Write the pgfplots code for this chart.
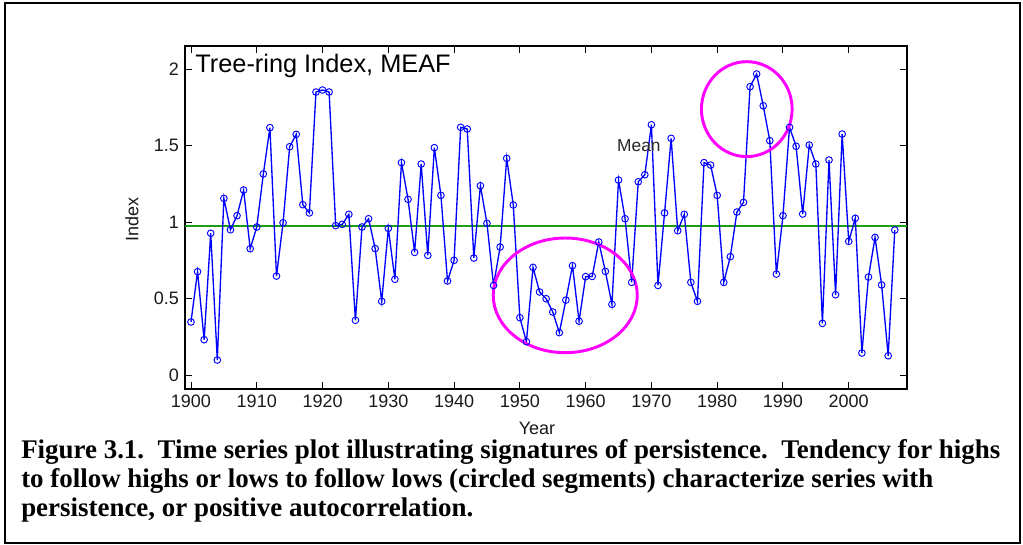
\documentclass[border=0pt]{standalone}
\usepackage{pgfplots}
\pgfplotsset{compat=1.18}
\usepackage{fontspec}
\setmainfont{Liberation Sans}
\newfontfamily\capfont{Liberation Serif}
\definecolor{meangreen}{rgb}{0.1,0.62,0.1}
\definecolor{lineblue}{rgb}{0,0,1}
\definecolor{circmag}{rgb}{1,0,1}
\begin{document}
\begin{tikzpicture}
\path[use as bounding box] (0,0) rectangle (767.25pt,408pt);
\draw[line width=1pt] (3.75pt,0.75pt) rectangle (765pt,405.75pt);
\begin{axis}[
  at={(138.75pt,116.25pt)}, anchor=south west,
  scale only axis, width=541.5pt, height=257.25pt,
  xmin=1899.09, xmax=2008.86, ymin=-0.0916, ymax=2.152,
  xtick={1900,1910,...,2000},
  ytick={0,0.5,1,1.5,2},
  yticklabels={0,0.5,1,1.5,2},
  /pgf/number format/1000 sep={},
  /pgf/number format/assume math mode=true,
  tick align=inside,
  major tick length=5pt,
  xtick pos=both, ytick pos=both,
  axis line style={line width=0.8pt},
  tick style={line width=0.7pt, black},
  ticklabel style={font=\fontsize{13.5}{15}\selectfont, text=black!90},
  xticklabel style={yshift=-1pt},
  yticklabel style={xshift=-1pt},
  xlabel={Year}, ylabel={Index},
  label style={font=\fontsize{13.5}{15}\selectfont, text=black!90},
  xlabel style={at={(axis description cs:0.4875,-0.1137)}, anchor=center},
  ylabel style={at={(axis description cs:-0.0734,0.493)}, anchor=center},
  clip=false,
]
\addplot[draw=meangreen, line width=1.1pt] coordinates {(1899.09,0.976) (2008.86,0.976)};
\addplot[lineblue, line width=1pt, mark=o, mark size=2.5pt, mark options={line width=0.7pt}] table {
x y
1900 0.347
1901 0.676
1902 0.231
1903 0.927
1904 0.098
1905 1.155
1906 0.950
1907 1.042
1908 1.210
1909 0.826
1910 0.968
1911 1.315
1912 1.618
1913 0.647
1914 0.996
1915 1.493
1916 1.574
1917 1.114
1918 1.060
1919 1.851
1920 1.864
1921 1.851
1922 0.977
1923 0.985
1924 1.051
1925 0.358
1926 0.968
1927 1.022
1928 0.827
1929 0.482
1930 0.959
1931 0.626
1932 1.389
1933 1.149
1934 0.802
1935 1.380
1936 0.783
1937 1.487
1938 1.175
1939 0.615
1940 0.750
1941 1.620
1942 1.609
1943 0.765
1944 1.238
1945 0.992
1946 0.586
1947 0.837
1948 1.417
1949 1.112
1950 0.375
1951 0.218
1952 0.704
1953 0.543
1954 0.499
1955 0.412
1956 0.277
1957 0.490
1958 0.715
1959 0.352
1960 0.643
1961 0.645
1962 0.870
1963 0.678
1964 0.462
1965 1.275
1966 1.022
1967 0.606
1968 1.264
1969 1.310
1970 1.637
1971 0.586
1972 1.060
1973 1.548
1974 0.944
1975 1.051
1976 0.606
1977 0.482
1978 1.389
1979 1.373
1980 1.175
1981 0.606
1982 0.774
1983 1.066
1984 1.129
1985 1.886
1986 1.969
1987 1.761
1988 1.533
1989 0.660
1990 1.042
1991 1.620
1992 1.496
1993 1.053
1994 1.504
1995 1.380
1996 0.338
1997 1.406
1998 0.525
1999 1.576
2000 0.874
2001 1.025
2002 0.144
2003 0.641
2004 0.900
2005 0.589
2006 0.126
2007 0.948
};
\node[font=\fontsize{13}{15}\selectfont, text=black!85] at (axis cs:1968.1,1.498) {Mean};
\node[font=\fontsize{19}{22}\selectfont, anchor=base west] at (axis cs:1899.95,1.98) {Tree-ring Index, MEAF};
\draw[circmag, line width=2.2pt] (axis cs:1956.9,0.521) ellipse [x radius=54pt, y radius=43pt];
\draw[circmag, line width=2.2pt] (axis cs:1984.5,1.739) ellipse [x radius=34pt, y radius=35.6pt];
\end{axis}
\begin{scope}[every node/.style={anchor=base west, inner sep=0pt, font=\capfont\bfseries\fontsize{20.2}{23}\selectfont}]
\node at (15.75pt,64.5pt) {Figure 3.1.\hspace{0.5em}Time series plot illustrating signatures of persistence.\hspace{0.5em}Tendency for highs};
\node at (15.75pt,42.75pt) {to follow highs or lows to follow lows (circled segments) characterize series with};
\node at (15.75pt,21pt) {persistence, or positive autocorrelation.};
\end{scope}
\end{tikzpicture}
\end{document}
